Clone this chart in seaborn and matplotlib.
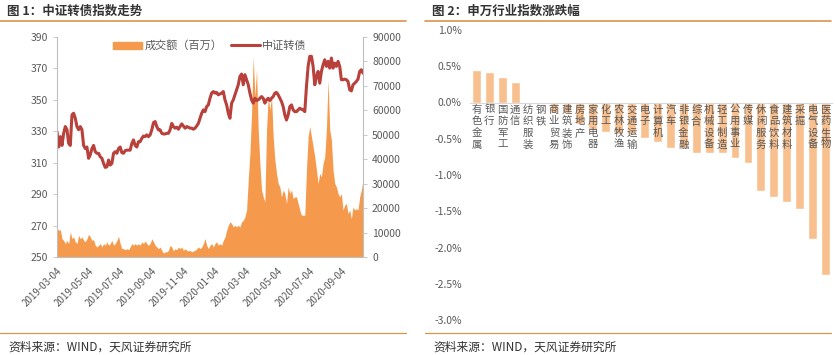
import pandas as pd
import numpy as np
import matplotlib
matplotlib.use("Agg")
import matplotlib.pyplot as plt
from matplotlib.lines import Line2D
from matplotlib.patches import Patch
import seaborn as sns

# ---- data: left chart (~3 calendar days apart) ----
start_date = "2019-03-04"
end_date = "2020-10-16"

cb_index = [
    329.8, 320.0, 326.6, 321.0, 328.7, 333.0, 331.0, 322.3, 321.0, 340.4,
    341.5, 338.3, 333.0, 331.0, 333.0, 331.0, 321.0, 319.0, 320.0, 312.8,
    315.0, 319.0, 321.0, 317.0, 316.0, 316.0, 313.8, 312.8, 309.6, 307.0,
    307.4, 311.7, 308.5, 309.6, 316.0, 317.0, 316.0, 319.0, 320.0, 316.4,
    316.0, 317.7, 318.0, 318.0, 318.0, 322.3, 324.5, 321.0, 320.0, 323.4,
    323.4, 325.5, 327.0, 326.6, 327.7, 326.6, 327.7, 330.9, 335.5, 336.2,
    333.0, 330.9, 330.9, 328.7, 328.3, 328.3, 328.7, 328.7, 330.9, 335.0,
    333.0, 332.0, 332.6, 331.3, 333.0, 334.7, 333.4, 332.0, 333.0, 332.6,
    332.0, 332.0, 331.3, 332.0, 333.4, 335.0, 338.3, 341.5, 343.6, 342.5,
    345.7, 346.8, 351.0, 354.3, 355.3, 354.3, 354.7, 353.2, 353.8, 354.3,
    355.3, 350.0, 346.8, 341.5, 338.3, 347.9, 350.0, 353.2, 356.4, 359.6,
    364.9, 366.4, 359.6, 366.0, 362.8, 359.6, 354.3, 350.0, 347.9, 351.0,
    349.6, 350.0, 351.0, 352.1, 351.0, 347.9, 350.0, 351.0, 349.6, 351.0,
    352.1, 354.3, 354.7, 353.2, 351.0, 348.9, 345.7, 340.4, 337.2, 340.4,
    345.7, 346.8, 343.6, 342.5, 342.5, 343.6, 344.7, 344.0, 343.6, 342.5,
    358.5, 371.3, 377.7, 377.7, 371.3, 359.6, 364.9, 368.1, 360.6, 368.1,
    372.3, 375.5, 371.3, 374.5, 370.2, 376.6, 370.2, 373.4, 371.3, 374.5,
    371.3, 362.8, 362.8, 363.2, 362.8, 361.7, 356.4, 355.7, 359.6, 360.6,
    361.7, 363.2, 368.1, 369.2, 367.0,
]

turnover = [  # 百万
    11600, 10900, 11200, 7500, 6800, 5500, 6800, 5500, 10300, 7500,
    8200, 6200, 5500, 8900, 7500, 8200, 6800, 6200, 7500, 9300,
    8200, 6800, 7100, 4800, 4100, 4800, 5500, 4100, 5500, 4800,
    6200, 4800, 5500, 6800, 4800, 5500, 6800, 8500, 5500, 3400,
    3400, 3000, 3400, 3000, 4100, 5500, 4800, 5500, 4800, 5500,
    4800, 6200, 5500, 6600, 5500, 4800, 5500, 7500, 6200, 4800,
    4100, 3400, 4100, 2700, 1600, 2100, 2100, 2700, 4800, 4100,
    2500, 3400, 3000, 4100, 3400, 4100, 2700, 3400, 2700, 2500,
    2700, 2100, 2500, 2700, 3400, 4100, 3400, 4100, 5500, 7500,
    4800, 3400, 4800, 5500, 4100, 5500, 6200, 4800, 5500, 4800,
    6800, 8200, 10900, 13000, 14400, 13700, 12300, 13000, 12300, 13000,
    12300, 14400, 15000, 16400, 19200, 31500, 42400, 58800, 82100, 65700,
    76600, 52000, 38300, 27400, 24600, 22600, 52000, 65700, 60200, 65700,
    49200, 39700, 34200, 30100, 28700, 24600, 27400, 26000, 21900, 28700,
    26000, 27400, 23900, 24600, 24600, 21900, 19200, 17100, 17100, 17100,
    35600, 49200, 53400, 49200, 45100, 41000, 35600, 30100, 34200, 32800,
    38300, 41000, 52000, 72500, 52000, 47900, 35600, 30100, 28700, 26000,
    24600, 26000, 19200, 21200, 21900, 17800, 19200, 15700, 20500, 19200,
    19800, 19200, 24600, 27400, 31500,
]

date_ticks = ["2019-03-04", "2019-05-04", "2019-07-04", "2019-09-04", "2019-11-04",
              "2020-01-04", "2020-03-04", "2020-05-04", "2020-07-04", "2020-09-04"]

# ---- data: right chart ----
industries = ["有色金属", "银行", "国防军工", "通信", "纺织服装", "钢铁", "商业贸易",
              "建筑装饰", "房地产", "家用电器", "化工", "农林牧渔", "交通运输", "电子",
              "计算机", "汽车", "非银金融", "综合", "机械设备", "轻工制造", "公用事业",
              "传媒", "休闲服务", "食品饮料", "建筑材料", "采掘", "电气设备", "医药生物"]
pct_change = [0.45, 0.42, 0.35, 0.28, 0.0, 0.0, -0.15,
              -0.15, -0.29, -0.38, -0.40, -0.43, -0.43, -0.49,
              -0.54, -0.63, -0.63, -0.70, -0.70, -0.70, -0.76,
              -0.84, -1.22, -1.31, -1.37, -1.47, -1.88, -2.38]

# ---- style ----
sns.set_style("white")
plt.rcParams["font.family"] = ["Noto Sans CJK SC", "DejaVu Sans"]
plt.rcParams["axes.unicode_minus"] = False

grey = "#595959"
axis_grey = "#BFBFBF"
rule_col = "#D9954F"
area_col = "#F59A4C"
line_col = "#B8413C"
bar_col = "#F9C08F"

W, H = 835, 355
fig = plt.figure(figsize=(W / 100, H / 100), dpi=100)


def box(x0, y0, x1, y1):
    # pixel box (top-left origin) -> figure fraction rect
    return [x0 / W, 1 - y1 / H, (x1 - x0) / W, (y1 - y0) / H]


# titles, rules and source notes
for x0, x1, title in [(0, 406, "图 1：中证转债指数走势"), (425, 831, "图 2：申万行业指数涨跌幅")]:
    fig.text((x0 + 7) / W, 1 - 11 / H, title, fontsize=9, fontweight="bold",
             color="#333333", va="center", ha="left")
    fig.add_artist(Line2D([x0 / W, x1 / W], [1 - 21 / H, 1 - 21 / H], color=rule_col, lw=1.2))
    fig.add_artist(Line2D([x0 / W, x1 / W], [1 - 333 / H, 1 - 333 / H], color=rule_col, lw=0.9))
    fig.text((x0 + 8) / W, 1 - 347 / H, "资料来源：WIND，天风证券研究所", fontsize=8.5,
             color="#333333", va="center", ha="left")

# ---- left chart ----
df = pd.DataFrame({
    "date": pd.date_range(start_date, end_date, periods=len(cb_index)),
    "中证转债": cb_index,
    "成交额": turnover,
})

ax_vol = fig.add_axes(box(57, 37, 363, 257))
ax_idx = ax_vol.twinx()

ax_vol.fill_between(df["date"], 0, df["成交额"], color=area_col, lw=0)
sns.lineplot(data=df, x="date", y="中证转债", ax=ax_idx, color=line_col, lw=2.2)

# volume axis on the right, index axis on the left (twinx puts them the other way)
ax_vol.yaxis.tick_right()
ax_idx.yaxis.tick_left()
ax_vol.set_ylim(0, 90000)
ax_vol.set_yticks(np.arange(0, 90001, 10000))
ax_idx.set_ylim(250, 390)
ax_idx.set_yticks(np.arange(250, 391, 20))
ax_idx.set_ylabel("")
ax_idx.set_xlabel("")
ax_vol.set_xlabel("")
ax_vol.set_xlim(df["date"].iloc[0], df["date"].iloc[-1])

ticks = pd.to_datetime(date_ticks)
ax_vol.set_xticks(ticks)
ax_vol.set_xticklabels(date_ticks, rotation=45, ha="right", rotation_mode="anchor")
ax_idx.tick_params(axis="x", bottom=False, labelbottom=False)

for a in (ax_vol, ax_idx):
    for s in a.spines.values():
        s.set_visible(False)
    a.tick_params(axis="y", colors=axis_grey, labelcolor=grey, labelsize=7.5,
                  length=3, width=0.6)
ax_vol.tick_params(axis="x", colors=axis_grey, labelcolor=grey, labelsize=7,
                   length=3, width=0.6)
ax_idx.spines["left"].set_visible(True)
ax_idx.spines["left"].set_color(axis_grey)
ax_vol.spines["right"].set_visible(True)
ax_vol.spines["right"].set_color(axis_grey)
ax_vol.spines["bottom"].set_visible(True)
ax_vol.spines["bottom"].set_color(axis_grey)

handles = [Patch(color=area_col, label="成交额（百万）"),
           Line2D([], [], color=line_col, lw=2.2, label="中证转债")]
ax_idx.legend(handles=handles, loc="upper center", bbox_to_anchor=(0.5, 1.03), ncol=2,
              frameon=False, fontsize=8, labelcolor=grey, handlelength=2.6,
              handleheight=0.6, columnspacing=0.8, handletextpad=0.2)

# ---- right chart ----
bars = pd.DataFrame({"行业": industries, "涨跌幅": pct_change})
ax_bar = fig.add_axes(box(470, 30, 832, 320))
sns.barplot(data=bars, x="行业", y="涨跌幅", ax=ax_bar, color=bar_col, saturation=1,
            width=0.68)
ax_bar.set_ylim(-3.0, 1.0)
ax_bar.set_xlim(-0.5, len(industries) - 0.5)
ax_bar.set_yticks(np.arange(-3.0, 1.01, 0.5))
ax_bar.set_yticklabels([f"{v:.1f}%" for v in np.arange(-3.0, 1.01, 0.5)])
ax_bar.set_xlabel("")
ax_bar.set_ylabel("")
for s in ax_bar.spines.values():
    s.set_visible(False)
ax_bar.spines["bottom"].set_visible(True)
ax_bar.spines["bottom"].set_position(("data", 0))
ax_bar.spines["bottom"].set_color("#D9D9D9")
ax_bar.set_xticks(np.arange(-0.5, len(industries), 1.0))
ax_bar.set_xticklabels([])
ax_bar.tick_params(axis="x", colors="#D9D9D9", length=3, width=0.6, direction="out")
ax_bar.tick_params(axis="y", length=0, labelcolor=grey, labelsize=7.5, pad=6)
for i, name in enumerate(industries):
    ax_bar.text(i, -0.03, "\n".join(name), ha="center", va="top", fontsize=7.5,
                color=grey, linespacing=1.2)

fig.savefig("out.png", dpi=100)
